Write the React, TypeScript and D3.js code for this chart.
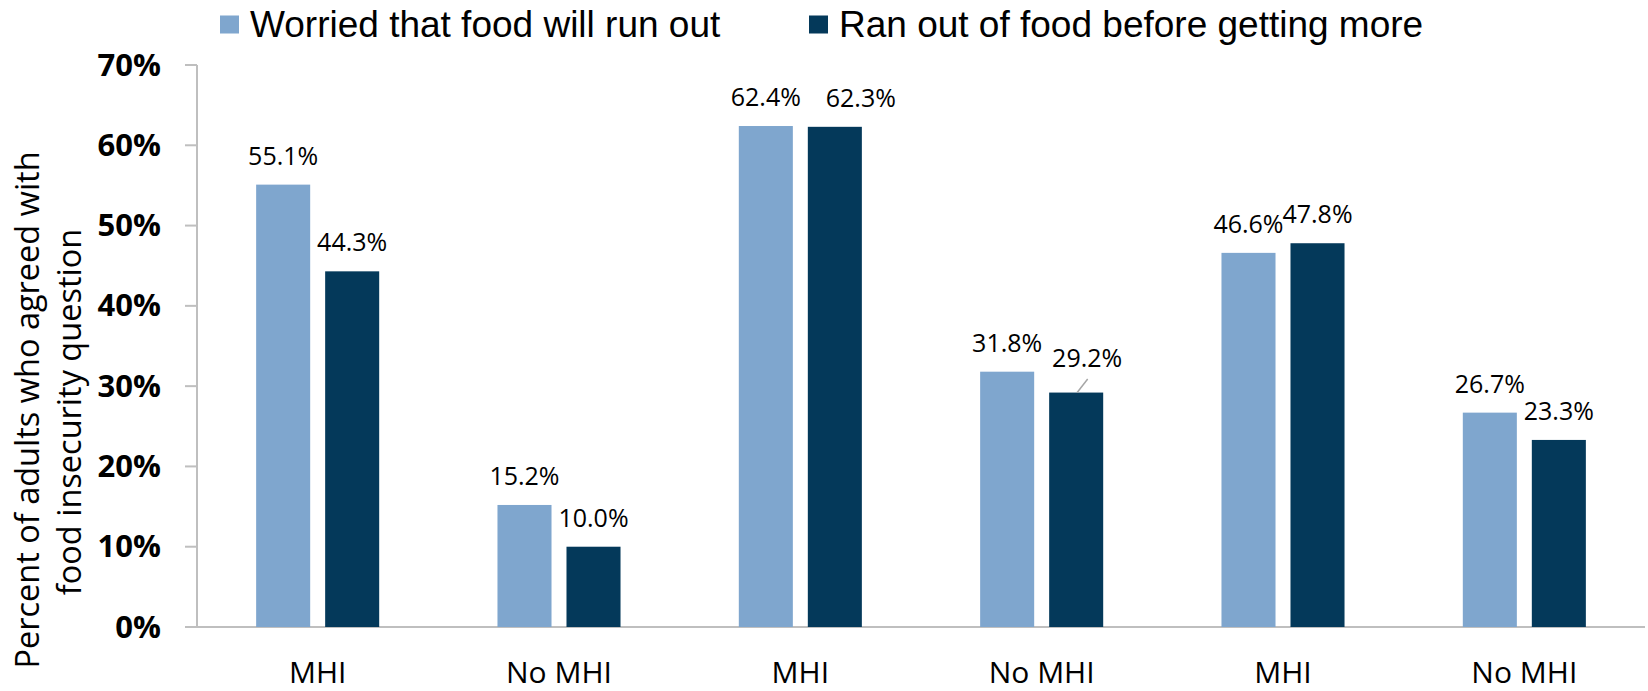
import React from "react";
import * as d3 from "d3";

const categories = ["MHI", "No MHI", "MHI", "No MHI", "MHI", "No MHI"];
const seriesNames = ["Worried that food will run out", "Ran out of food before getting more"];
const worried = [55.1, 15.2, 62.4, 31.8, 46.6, 26.7];
const ranOut = [44.3, 10.0, 62.3, 29.2, 47.8, 23.3];
const yTicks = [0, 10, 20, 30, 40, 50, 60, 70];
const colors = ["#7FA6CE", "#04395A"];

// label nudges (px) for labels moved off their bars: key = "group-series"
const labelNudge: Record<string, { dx: number; dy: number; leader?: boolean }> = {
  "2-1": { dx: 26, dy: 0 },
  "3-1": { dx: 11, dy: -6, leader: true },
};

const W = 1648;
const H = 691;
const left = 197;
const right = 1645;
const top = 65;
const bottom = 627;

export default function App() {
  const x0 = d3.scaleBand<number>().domain(d3.range(categories.length)).range([left, right]).paddingInner(0).paddingOuter(0);
  const x1 = d3.scaleBand<number>().domain([0, 1]).range([0, x0.bandwidth()]).paddingInner(0.217).paddingOuter(0.857);
  const y = d3.scaleLinear().domain([0, 70]).range([bottom, top]);
  const series = [worried, ranOut];
  const fmt = (v: number) => v.toFixed(1) + "%";

  return (
    <svg width={W} height={H} style={{ position: "absolute", left: 0, top: 0, background: "#fff" }}>
      {/* legend */}
      <rect x={220} y={15.5} width={19} height={18} fill={colors[0]} />
      <text x={250} y={37} fontFamily="Liberation Sans, Arial, sans-serif" fontSize={37} fill="#000">{seriesNames[0]}</text>
      <rect x={809} y={15.5} width={19} height={18} fill={colors[1]} />
      <text x={839} y={37} fontFamily="Liberation Sans, Arial, sans-serif" fontSize={37} fill="#000">{seriesNames[1]}</text>

      {/* y axis */}
      <line x1={left} x2={left} y1={top} y2={bottom} stroke="#bfbfbf" strokeWidth={2} />
      {yTicks.map((t) => (
        <g key={t}>
          <line x1={185} x2={left} y1={y(t)} y2={y(t)} stroke="#bfbfbf" strokeWidth={2} />
          <text x={161} y={y(t) + 10.5} textAnchor="end" fontFamily="Open Sans, sans-serif" fontWeight={700} fontSize={31} fill="#000">
            {t}%
          </text>
        </g>
      ))}
      {/* x axis */}
      <line x1={185} x2={right} y1={bottom} y2={bottom} stroke="#bfbfbf" strokeWidth={2} />

      {/* bars */}
      {categories.map((c, i) => (
        <g key={i}>
          {series.map((s, j) => {
            const bx = (x0(i) as number) + (x1(j) as number);
            const bw = x1.bandwidth();
            const by = y(s[i]);
            const nudge = labelNudge[`${i}-${j}`] || { dx: 0, dy: 0 };
            const lx = bx + bw / 2 + nudge.dx;
            const ly = by - 20 + nudge.dy;
            return (
              <g key={j}>
                <rect x={bx} y={by} width={bw} height={bottom - by} fill={colors[j]} />
                {nudge.leader && (
                  <line x1={bx + bw / 2 + 1} y1={by} x2={lx + 0.5} y2={ly + 12.5} stroke="#a6a6a6" strokeWidth={1.5} />
                )}
                <text x={lx} y={ly} textAnchor="middle" fontFamily="Open Sans, sans-serif" fontSize={25} fill="#000">
                  {fmt(s[i])}
                </text>
              </g>
            );
          })}
          <text x={(x0(i) as number) + x0.bandwidth() / 2} y={683} textAnchor="middle" fontFamily="Open Sans, sans-serif" fontSize={30} fill="#000">
            {c}
          </text>
        </g>
      ))}

      {/* y title */}
      <text transform={`translate(39,410) rotate(-90)`} textAnchor="middle" fontFamily="Open Sans, sans-serif" fontSize={32.5} fill="#000">
        Percent of adults who agreed with
      </text>
      <text transform={`translate(81,412) rotate(-90)`} textAnchor="middle" fontFamily="Open Sans, sans-serif" fontSize={32.5} fill="#000">
        food insecurity question
      </text>
    </svg>
  );
}
